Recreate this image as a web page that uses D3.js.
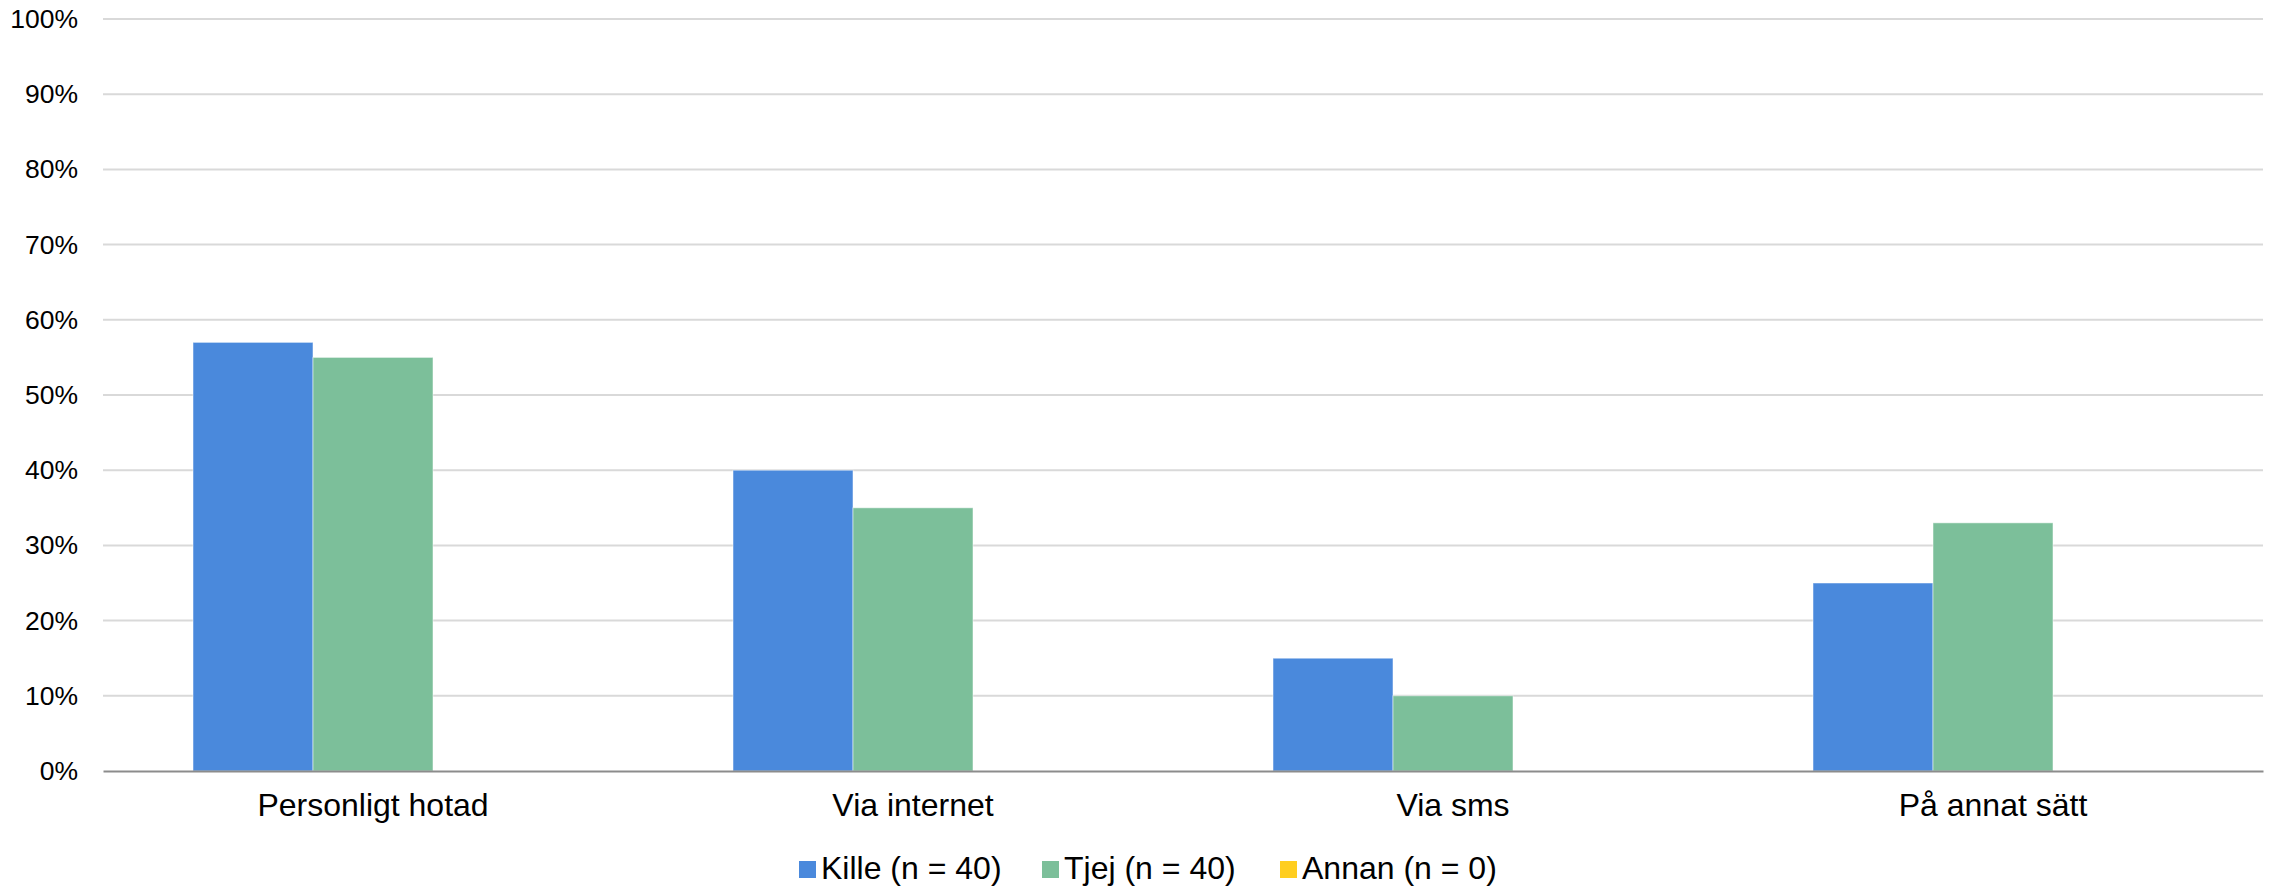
<!DOCTYPE html>
<html><head><meta charset="utf-8">
<script src="https://cdn.jsdelivr.net/npm/d3@7/dist/d3.min.js"></script>
<style>body{margin:0;background:#fff;}svg{display:block;font-family:"Liberation Sans",Arial,sans-serif;}</style>
</head><body>
<svg id="c" width="2270" height="889"></svg>
<script>
const categories = ["Personligt hotad", "Via internet", "Via sms", "På annat sätt"];
const seriesNames = ["Kille (n = 40)", "Tjej (n = 40)", "Annan (n = 0)"];
const kille = [57, 40, 15, 25];
const tjej = [55, 35, 10, 33];
const annan = [0, 0, 0, 0];
const colors = ["#4a89dc", "#7cbf9a", "#ffce20"];
const yTicks = [0,10,20,30,40,50,60,70,80,90,100];

const seriesVals = [kille, tjej, annan];
const svg = d3.select("#c");
const L = 103, R = 2263, T = 19, B = 771;
const x0 = d3.scaleBand().domain(categories).range([L, R]).paddingInner(0).paddingOuter(0);
const x1 = d3.scaleBand().domain(seriesNames).range([0, x0.bandwidth()]).paddingOuter(0.75).paddingInner(0);
const y = d3.scaleLinear().domain([0, 100]).range([B, T]);

// gridlines
svg.append("g").selectAll("line").data(yTicks.filter(d => d > 0)).join("line")
  .attr("x1", L).attr("x2", R).attr("y1", d => y(d)).attr("y2", d => y(d))
  .attr("stroke", "#d9d9d9").attr("stroke-width", 2);

// y axis labels
const ya = svg.append("g").attr("transform", `translate(${L},0)`)
  .call(d3.axisLeft(y).tickValues(yTicks).tickFormat(d => d + "%").tickSize(0).tickPadding(25));
ya.select(".domain").remove();
ya.selectAll("text").attr("font-size", "26.5px").attr("fill", "#000")
  .attr("font-family", "'Liberation Sans',Arial,sans-serif");

// bars
const groups = svg.append("g").selectAll("g").data(categories).join("g")
  .attr("transform", c => `translate(${x0(c)},0)`);
groups.selectAll("rect").data((c, i) => seriesNames.map((s, j) => ({s, j, v: seriesVals[j][i]})))
  .join("rect")
  .attr("x", d => x1(d.s)).attr("width", x1.bandwidth())
  .attr("y", d => y(d.v)).attr("height", d => B - y(d.v))
  .attr("fill", d => colors[d.j])
  .attr("stroke", d => d.v > 0 ? "rgba(255,255,255,0.5)" : "none").attr("stroke-width", 1);

// x axis
const xa = svg.append("g").attr("transform", `translate(0,${B})`)
  .call(d3.axisBottom(x0).tickSize(0).tickPadding(22));
xa.select(".domain").attr("stroke", "#8c8c8c").attr("stroke-width", 2);
xa.selectAll("text").attr("font-size", "32px").attr("fill", "#000")
  .attr("font-family", "'Liberation Sans',Arial,sans-serif");

// legend
const legX = [799, 1042, 1280];
const leg = svg.append("g").selectAll("g").data(seriesNames).join("g")
  .attr("transform", (d, i) => `translate(${legX[i]},861)`);
leg.append("rect").attr("width", 17).attr("height", 17).attr("fill", (d, i) => colors[i]);
leg.append("text").attr("x", 22).attr("y", 18).attr("font-size", "32px").attr("fill", "#000")
  .text(d => d);
</script>
</body></html>
